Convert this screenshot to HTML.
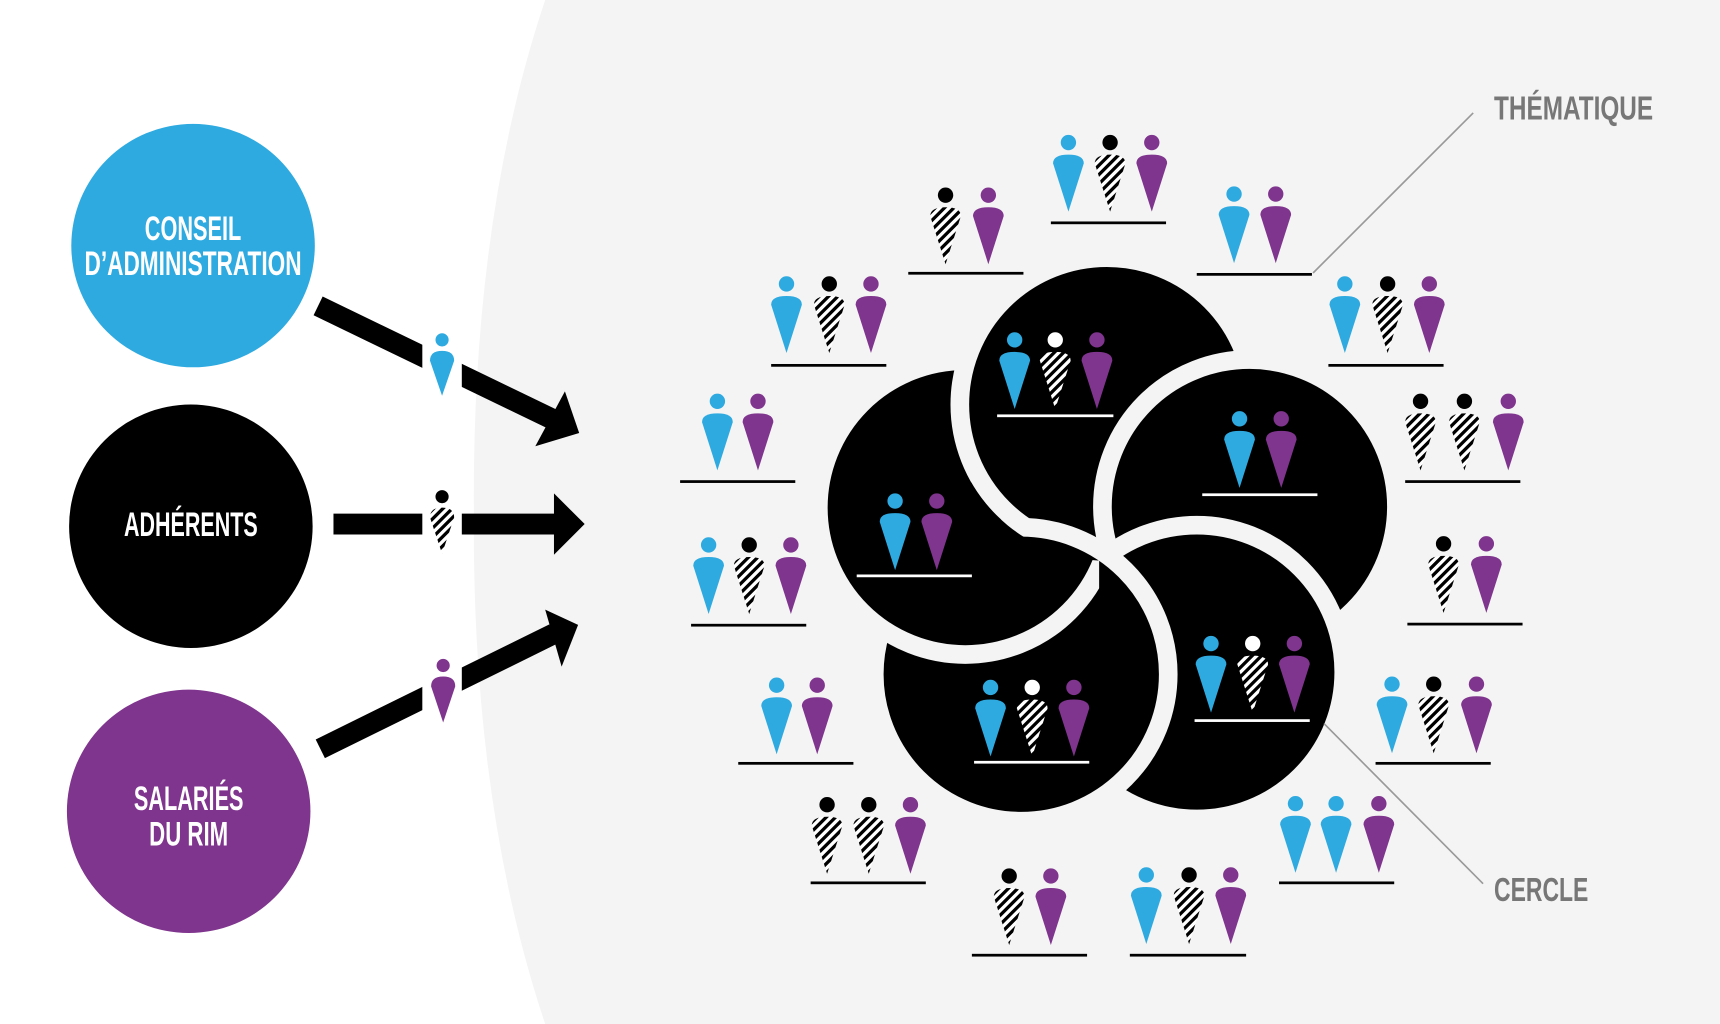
<!DOCTYPE html>
<html><head><meta charset="utf-8"><style>html,body{margin:0;padding:0;background:#fff}svg{display:block}</style></head>
<body>
<svg width="1720" height="1024" viewBox="0 0 1568 934" preserveAspectRatio="none" xmlns="http://www.w3.org/2000/svg">
<defs>
<pattern id="st" patternUnits="userSpaceOnUse" width="6" height="6" patternTransform="rotate(45)">
<rect width="6" height="6" fill="#fff"/><rect width="3" height="6" fill="#000"/>
</pattern>
<symbol id="body" overflow="visible"><path d="M-14,19 Q-14,11 0,11 Q14,11 14,19 L0,63 Z"/></symbol>
<mask id="mk" maskUnits="userSpaceOnUse" x="0" y="0" width="1568" height="934">
<rect x="730" y="440" width="272" height="200" fill="#fff"/>
<circle cx="1009" cy="369" r="142.5" fill="#000"/>
<circle cx="1139" cy="462" r="142.5" fill="#000"/>
</mask>
</defs>
<rect width="1568" height="934" fill="#fff"/>
<path d="M497,0 Q430,200 432,467 Q430,734 497,934 L1568,934 L1568,0 Z" fill="#f4f4f4"/>

<circle cx="176" cy="224" r="111" fill="#2eaae1"/>
<circle cx="174" cy="480" r="111" fill="#000"/>
<circle cx="172" cy="740" r="111" fill="#7f348d"/>
<g font-family="'Liberation Sans Narrow','Liberation Sans',sans-serif" font-weight="bold" fill="#fff" font-size="31" text-anchor="middle">
<text x="176" y="219" textLength="88" lengthAdjust="spacingAndGlyphs">CONSEIL</text>
<text x="176" y="251" textLength="198" lengthAdjust="spacingAndGlyphs">D’ADMINISTRATION</text>
<text x="174" y="489" textLength="122" lengthAdjust="spacingAndGlyphs">ADHÉRENTS</text>
<text x="172" y="739" textLength="100" lengthAdjust="spacingAndGlyphs">SALARIÉS</text>
<text x="172" y="771" textLength="72" lengthAdjust="spacingAndGlyphs">DU RIM</text>
</g>

<g stroke="#000" stroke-width="19" fill="none">
<line x1="290" y1="279" x2="505" y2="383"/>
<line x1="304" y1="478" x2="510" y2="478"/>
<line x1="292" y1="683" x2="505" y2="578"/>
</g>
<polygon points="488,407 515,357 528,395" fill="#000"/>
<polygon points="505,450 533,478 505,506" fill="#000"/>
<polygon points="497,556 527,570 512,608" fill="#000"/>
<rect x="385" y="270" width="36" height="430" fill="#fff"/>
<circle cx="403" cy="310" r="6" fill="#2eaae1"/>
<path d="M392,329 Q392,320 403,320 Q414,320 414,329 L403,361 Z" fill="#2eaae1"/>
<circle cx="403" cy="453" r="6" fill="#000"/>
<path d="M392,472 Q392,463 403,463 Q414,463 414,472 L403,505 Z" fill="url(#st)"/>
<circle cx="404" cy="607" r="6" fill="#7f348d"/>
<path d="M393,626 Q393,617 404,617 Q415,617 415,626 L404,659 Z" fill="#7f348d"/>

<g stroke="#f4f4f4" stroke-width="17" fill="#000">
<circle cx="880" cy="463" r="134"/>
<circle cx="1009" cy="369" r="134"/>
<circle cx="1139" cy="462" r="134"/>
<circle cx="1091" cy="613" r="134"/>
<circle cx="931" cy="615" r="134"/>
</g>
<circle cx="880" cy="463" r="134" fill="#000" stroke="#f4f4f4" stroke-width="17" mask="url(#mk)"/>

<g stroke="#999" stroke-width="1.5">
<line x1="1197" y1="249" x2="1343" y2="103"/>
<line x1="1207" y1="660" x2="1352" y2="806"/>
</g>
<g font-family="'Liberation Sans Narrow','Liberation Sans',sans-serif" font-weight="bold" fill="#777" font-size="30">
<text x="1362" y="109" textLength="145" lengthAdjust="spacingAndGlyphs">THÉMATIQUE</text>
<text x="1362" y="822" textLength="86" lengthAdjust="spacingAndGlyphs">CERCLE</text>
</g>

<g>
<circle cx="862" cy="178" r="7"/><use href="#body" x="862" y="178" fill="url(#st)"/>
<circle cx="901" cy="178" r="7" fill="#7f348d"/><use href="#body" x="901" y="178" fill="#7f348d"/>
<rect x="828" y="248" width="105" height="2.5"/>
<circle cx="974" cy="130" r="7" fill="#2eaae1"/><use href="#body" x="974" y="130" fill="#2eaae1"/>
<circle cx="1012" cy="130" r="7"/><use href="#body" x="1012" y="130" fill="url(#st)"/>
<circle cx="1050" cy="130" r="7" fill="#7f348d"/><use href="#body" x="1050" y="130" fill="#7f348d"/>
<rect x="958" y="202" width="105" height="2.5"/>
<circle cx="1125" cy="177" r="7" fill="#2eaae1"/><use href="#body" x="1125" y="177" fill="#2eaae1"/>
<circle cx="1163" cy="177" r="7" fill="#7f348d"/><use href="#body" x="1163" y="177" fill="#7f348d"/>
<rect x="1091" y="249" width="105" height="2.5"/>
<circle cx="717" cy="259" r="7" fill="#2eaae1"/><use href="#body" x="717" y="259" fill="#2eaae1"/>
<circle cx="756" cy="259" r="7"/><use href="#body" x="756" y="259" fill="url(#st)"/>
<circle cx="794" cy="259" r="7" fill="#7f348d"/><use href="#body" x="794" y="259" fill="#7f348d"/>
<rect x="703" y="332" width="105" height="2.5"/>
<circle cx="1226" cy="259" r="7" fill="#2eaae1"/><use href="#body" x="1226" y="259" fill="#2eaae1"/>
<circle cx="1265" cy="259" r="7"/><use href="#body" x="1265" y="259" fill="url(#st)"/>
<circle cx="1303" cy="259" r="7" fill="#7f348d"/><use href="#body" x="1303" y="259" fill="#7f348d"/>
<rect x="1211" y="332" width="105" height="2.5"/>
<circle cx="654" cy="366" r="7" fill="#2eaae1"/><use href="#body" x="654" y="366" fill="#2eaae1"/>
<circle cx="691" cy="366" r="7" fill="#7f348d"/><use href="#body" x="691" y="366" fill="#7f348d"/>
<rect x="620" y="438" width="105" height="2.5"/>
<circle cx="1295" cy="366" r="7"/><use href="#body" x="1295" y="366" fill="url(#st)"/>
<circle cx="1335" cy="366" r="7"/><use href="#body" x="1335" y="366" fill="url(#st)"/>
<circle cx="1375" cy="366" r="7" fill="#7f348d"/><use href="#body" x="1375" y="366" fill="#7f348d"/>
<rect x="1281" y="438" width="105" height="2.5"/>
<circle cx="646" cy="497" r="7" fill="#2eaae1"/><use href="#body" x="646" y="497" fill="#2eaae1"/>
<circle cx="683" cy="497" r="7"/><use href="#body" x="683" y="497" fill="url(#st)"/>
<circle cx="721" cy="497" r="7" fill="#7f348d"/><use href="#body" x="721" y="497" fill="#7f348d"/>
<rect x="630" y="569" width="105" height="2.5"/>
<circle cx="1316" cy="496" r="7"/><use href="#body" x="1316" y="496" fill="url(#st)"/>
<circle cx="1355" cy="496" r="7" fill="#7f348d"/><use href="#body" x="1355" y="496" fill="#7f348d"/>
<rect x="1283" y="568" width="105" height="2.5"/>
<circle cx="708" cy="625" r="7" fill="#2eaae1"/><use href="#body" x="708" y="625" fill="#2eaae1"/>
<circle cx="745" cy="625" r="7" fill="#7f348d"/><use href="#body" x="745" y="625" fill="#7f348d"/>
<rect x="673" y="695" width="105" height="2.5"/>
<circle cx="1269" cy="624" r="7" fill="#2eaae1"/><use href="#body" x="1269" y="624" fill="#2eaae1"/>
<circle cx="1307" cy="624" r="7"/><use href="#body" x="1307" y="624" fill="url(#st)"/>
<circle cx="1346" cy="624" r="7" fill="#7f348d"/><use href="#body" x="1346" y="624" fill="#7f348d"/>
<rect x="1254" y="695" width="105" height="2.5"/>
<circle cx="754" cy="734" r="7"/><use href="#body" x="754" y="734" fill="url(#st)"/>
<circle cx="792" cy="734" r="7"/><use href="#body" x="792" y="734" fill="url(#st)"/>
<circle cx="830" cy="734" r="7" fill="#7f348d"/><use href="#body" x="830" y="734" fill="#7f348d"/>
<rect x="739" y="804" width="105" height="2.5"/>
<circle cx="1181" cy="733" r="7" fill="#2eaae1"/><use href="#body" x="1181" y="733" fill="#2eaae1"/>
<circle cx="1218" cy="733" r="7" fill="#2eaae1"/><use href="#body" x="1218" y="733" fill="#2eaae1"/>
<circle cx="1257" cy="733" r="7" fill="#7f348d"/><use href="#body" x="1257" y="733" fill="#7f348d"/>
<rect x="1166" y="804" width="105" height="2.5"/>
<circle cx="920" cy="799" r="7"/><use href="#body" x="920" y="799" fill="url(#st)"/>
<circle cx="958" cy="799" r="7" fill="#7f348d"/><use href="#body" x="958" y="799" fill="#7f348d"/>
<rect x="886" y="870" width="105" height="2.5"/>
<circle cx="1045" cy="798" r="7" fill="#2eaae1"/><use href="#body" x="1045" y="798" fill="#2eaae1"/>
<circle cx="1084" cy="798" r="7"/><use href="#body" x="1084" y="798" fill="url(#st)"/>
<circle cx="1122" cy="798" r="7" fill="#7f348d"/><use href="#body" x="1122" y="798" fill="#7f348d"/>
<rect x="1030" y="870" width="106" height="2.5"/>

<circle cx="925" cy="310" r="7" fill="#2eaae1"/><use href="#body" x="925" y="310" fill="#2eaae1"/>
<circle cx="962" cy="310" r="7" fill="#fff"/><use href="#body" x="962" y="310" fill="url(#st)"/>
<circle cx="1000" cy="310" r="7" fill="#7f348d"/><use href="#body" x="1000" y="310" fill="#7f348d"/>
<rect x="909" y="378" width="106" height="2.5" fill="#fff"/>
<circle cx="1130" cy="382" r="7" fill="#2eaae1"/><use href="#body" x="1130" y="382" fill="#2eaae1"/>
<circle cx="1168" cy="382" r="7" fill="#7f348d"/><use href="#body" x="1168" y="382" fill="#7f348d"/>
<rect x="1096" y="450" width="105" height="2.5" fill="#fff"/>
<circle cx="816" cy="457" r="7" fill="#2eaae1"/><use href="#body" x="816" y="457" fill="#2eaae1"/>
<circle cx="854" cy="457" r="7" fill="#7f348d"/><use href="#body" x="854" y="457" fill="#7f348d"/>
<rect x="781" y="524" width="105" height="2.5" fill="#fff"/>
<circle cx="1104" cy="587" r="7" fill="#2eaae1"/><use href="#body" x="1104" y="587" fill="#2eaae1"/>
<circle cx="1142" cy="587" r="7" fill="#fff"/><use href="#body" x="1142" y="587" fill="url(#st)"/>
<circle cx="1180" cy="587" r="7" fill="#7f348d"/><use href="#body" x="1180" y="587" fill="#7f348d"/>
<rect x="1089" y="656" width="105" height="2.5" fill="#fff"/>
<circle cx="903" cy="627" r="7" fill="#2eaae1"/><use href="#body" x="903" y="627" fill="#2eaae1"/>
<circle cx="941" cy="627" r="7" fill="#fff"/><use href="#body" x="941" y="627" fill="url(#st)"/>
<circle cx="979" cy="627" r="7" fill="#7f348d"/><use href="#body" x="979" y="627" fill="#7f348d"/>
<rect x="888" y="694" width="105" height="2.5" fill="#fff"/>
</g>
</svg>
</body></html>
